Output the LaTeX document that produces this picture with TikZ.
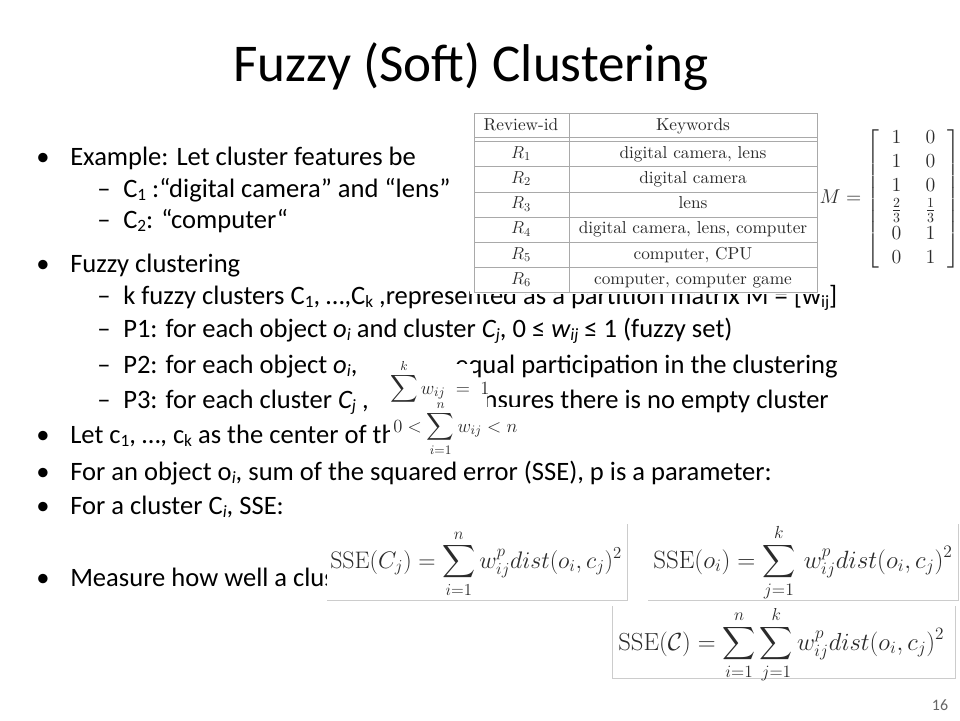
\RequirePackage{fix-cm}
\documentclass[tikz,border=0pt]{standalone}
\usepackage{exscale}
\usepackage{fontspec}
\newfontfamily\slidefont{Carlito}
\newfontfamily\lmfont{lmroman10-regular}[Extension=.otf]
\newcommand\lo[1]{\raisebox{-0.3ex}{\fontsize{13}{13}\selectfont#1}}
\definecolor{rule}{HTML}{A9A9A9}
\definecolor{ink}{HTML}{2B2B2B}

\begin{document}
\begin{tikzpicture}
  [x=0.026458cm,y=-0.026458cm,
   every node/.style={inner sep=0pt},
   txt/.style={anchor=base west,font=\slidefont\fontsize{20}{24}\selectfont},
   cell/.style={anchor=base,font=\lmfont\fontsize{13}{15}\selectfont,text=ink},
   fml/.style={anchor=base west,text=ink},
   grid/.style={draw=rule,line width=0.6pt},
   frame/.style={draw=black!20,line width=0.6pt}]
  \useasboundingbox (0,0) rectangle (960,720);
  \fill[white] (0,0) rectangle (960,720);
  \node[font=\slidefont\fontsize{40}{46}\selectfont] (title) at (471,67) {Fuzzy (Soft) Clustering};
  \foreach \y/\nm in {165/b1,272/b2,443/b3,480/b4,514/b5,586/b6}
    \node[txt] (\nm) at (36,\y) {•};
  \foreach \y/\nm in {197/d1,228/d2,304/d3,337/d4,373/d5,408/d6}
    \node[txt] (\nm) at (97,\y) {–};
  \node[txt] (ex) at (70,165) {Example: Let cluster features be};
  \node[txt] (c1) at (123,197) {C\lo{1} :“digital camera” and “lens”};
  \node[txt] (c2) at (123,228) {C\lo{2}: “computer“};
  \node[txt] (fz) at (70,272) {Fuzzy clustering};
  \node[txt] (kf) at (123,304) {k fuzzy clusters C\lo{1}, …,C\lo{k} ,represented as a partition matrix M = [w\lo{ij}]};
  \node[txt] (p1) at (123,337) {P1: for each object \textit{o\lo{i}} and cluster \textit{C\lo{j}}, 0 ≤ \textit{w\lo{ij}} ≤ 1 (fuzzy set)};
  \node[txt] (p2) at (123,373) {P2: for each object \textit{o\lo{i}},};
  \node[txt,anchor=base east] (p2b) at (838,373) {equal participation in the clustering};
  \node[txt] (p3) at (123,408) {P3: for each cluster \textit{C\lo{j}} ,};
  \node[txt,anchor=base east] (p3b) at (829,408) {ensures there is no empty cluster};
  \node[txt] (lc) at (70,443) {Let c\lo{1}, …, c\lo{k} as the center of the};
  \node[txt] (ob) at (70,480) {For an object o\lo{\textit{i}}, sum of the squared error (SSE), p is a parameter:};
  \node[txt] (cl) at (70,514) {For a cluster C\lo{\textit{i}}, SSE:};
  \node[txt] (ms) at (70,586) {Measure how well a clust};
  % table of reviews
  \fill[white] (470,109) rectangle (821,294);
  \draw[grid] (474,113) rectangle (817,292);
  \draw[grid] (474,137) -- (817,137) (474,141) -- (817,141) (569,113) -- (569,292);
  \foreach \y in {166,192,217,242,267}
    \draw[grid] (474,\y) -- (817,\y);
  \node[cell] (hid) at (521,130) {Review-id};
  \node[cell] (hkw) at (693,130) {Keywords};
  \foreach \i/\kw in {1/{digital camera, lens},2/{digital camera},3/{lens},4/{digital camera, lens, computer},5/{computer, CPU},6/{computer, computer game}} {
    \node[cell] (rid\i) at (521,{133+25.2*\i}) {$R_\i$};
    \node[cell] (kw\i) at (693,{133+25.2*\i}) {\kw};
  }
  \node[font=\fontsize{15}{18}\selectfont,text=ink] (mat) at (890,199)
    {\setlength\arraycolsep{9pt}$M = \left[\begin{array}{cc}1&0\\1&0\\1&0\\\frac{2}{3}&\frac{1}{3}\\0&1\\0&1\end{array}\right]$};
  % constraint formulas
  \fill[white] (380,364) -- (473,364) -- (473,390) -- (487,390) -- (487,407) -- (380,407) -- cycle;
  \node[fml,font=\fontsize{14}{17}\selectfont] (wsum) at (390,394) {$\displaystyle\sum^{k} w_{ij} \;=\; 1$};
  \fill[white] (390,407) rectangle (528,452);
  \node[fml,font=\fontsize{14}{17}\selectfont] (csum) at (393,432) {$\displaystyle 0 < \sum_{i=1}^{n} w_{ij} < n$};
  % SSE formulas
  \fill[white] (327,524) rectangle (627,600);
  \draw[frame] (327,600) -- (627,600) -- (627,524);
  \begin{scope}
    \clip (327,524) rectangle (626,600);
    \node[fml,font=\fontsize{18}{21}\selectfont] (ssec) at (330,568) {$\mathrm{SSE}(C_j) = \displaystyle\sum_{i=1}^{n} w_{ij}^{p} dist(o_i,c_j)^2$};
  \end{scope}
  \fill[white] (648,524) rectangle (960,600);
  \draw[frame] (648,600) -- (958,600) -- (958,524);
  \node[fml,font=\fontsize{18.8}{22}\selectfont] (sseo) at (653,568) {$\mathrm{SSE}(o_i) = \displaystyle\sum_{j=1}^{k}\, w_{ij}^{p} dist(o_i,c_j)^2$};
  \fill[white] (612,606) rectangle (956,678);
  \draw[frame] (612,606) -- (612,678) -- (955,678) -- (955,606);
  \node[fml,font=\fontsize{18.6}{21}\selectfont] (sseall) at (618,650) {$\mathrm{SSE}(\mathcal{C}) = \displaystyle\sum_{i=1}^{n}\sum_{j=1}^{k} w_{ij}^{p} dist(o_i,c_j)^2$};
  \node[font=\slidefont\fontsize{12}{14}\selectfont,text=black!60] (pg) at (940,705) {16};
\end{tikzpicture}
\end{document}
